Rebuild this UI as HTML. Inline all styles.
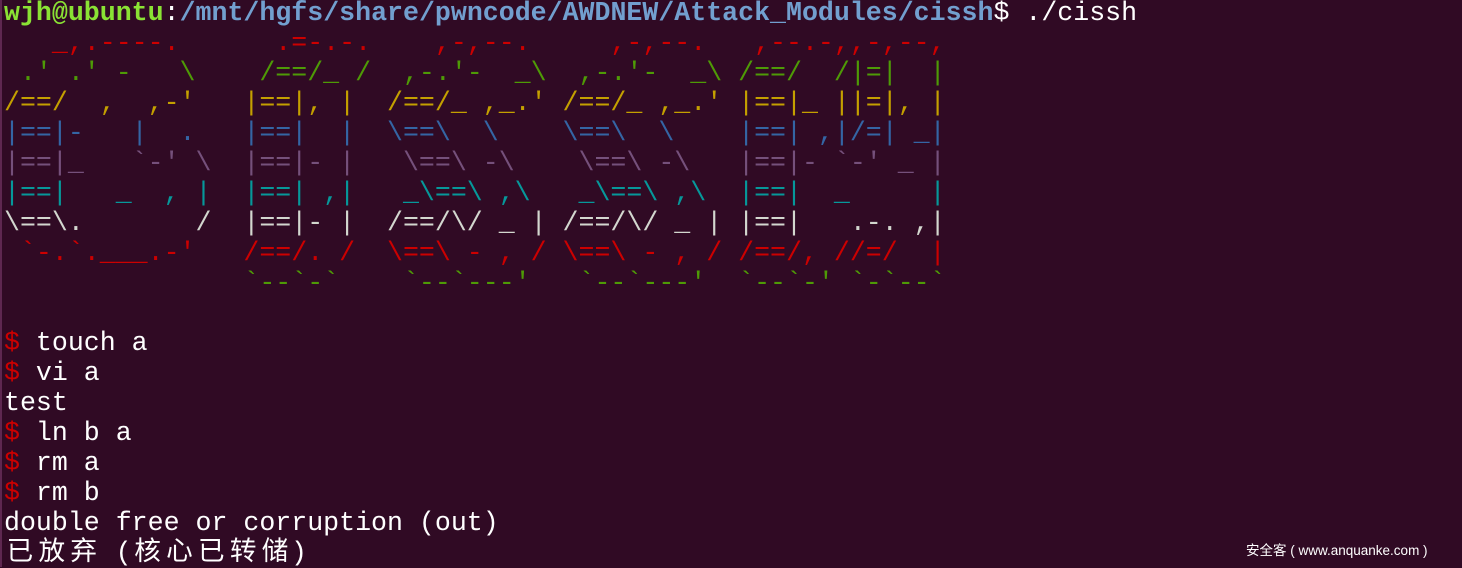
<!DOCTYPE html>
<html><head><meta charset="utf-8"><style>
html,body{margin:0;padding:0;width:1462px;height:567px;overflow:hidden;background:#300a24;}
.l{position:absolute;left:0;top:0;width:2px;height:567px;background:#5e2750;}
pre{position:absolute;left:4px;top:-2px;margin:0;font-family:"Liberation Mono",monospace;font-size:26.6px;line-height:30px;color:#ffffff;white-space:pre;}
.g{color:#8ae234;font-weight:bold}.b{color:#729fcf;font-weight:bold}
.r{color:#cc0000}.gr{color:#4e9a06}.y{color:#c4a000}.bl{color:#3465a4}.p{color:#75507b}.c{color:#06989a}.w{color:#d3d7cf}
.z{display:inline-block;width:31.9px;text-align:center;font-family:"Liberation Mono","Noto Sans CJK SC",sans-serif;}
.wm{position:absolute;left:1246px;top:539px;font-family:"Liberation Sans","Noto Sans CJK SC",sans-serif;font-size:13.5px;color:#fff;white-space:nowrap;}
</style></head><body>
<div class="l"></div>
<pre><span class="g">wjh@ubuntu</span>:<span class="b">/mnt/hgfs/share/pwncode/AWDNEW/Attack_Modules/cissh</span>$ ./cissh
<span class="r">   _,.----.      .=-.-.    ,-,--.     ,-,--.   ,--.-,,-,--,</span>
<span class="gr"> .' .' -   \    /==/_ /  ,-.'-  _\  ,-.'-  _\ /==/  /|=|  |</span>
<span class="y">/==/  ,  ,-'   |==|, |  /==/_ ,_.' /==/_ ,_.' |==|_ ||=|, |</span>
<span class="bl">|==|-   |  .   |==|  |  \==\  \    \==\  \    |==| ,|/=| _|</span>
<span class="p">|==|_   `-' \  |==|- |   \==\ -\    \==\ -\   |==|- `-' _ |</span>
<span class="c">|==|   _  , |  |==| ,|   _\==\ ,\   _\==\ ,\  |==|  _     |</span>
<span class="w">\==\.       /  |==|- |  /==/\/ _ | /==/\/ _ | |==|   .-. ,|</span>
<span class="r"> `-.`.___.-'   /==/. /  \==\ - , / \==\ - , / /==/, //=/  |</span>
<span class="gr">               `--`-`    `--`---'   `--`---'  `--`-' `-`--`</span>

<span class="r">$</span> touch a
<span class="r">$</span> vi a
test
<span class="r">$</span> ln b a
<span class="r">$</span> rm a
<span class="r">$</span> rm b
double free or corruption (out)
<span class="z">已</span><span class="z">放</span><span class="z">弃</span> (<span class="z">核</span><span class="z">心</span><span class="z">已</span><span class="z">转</span><span class="z">储</span>)</pre>
<div class="wm">安全客 ( www.anquanke.com )</div>
</body></html>
